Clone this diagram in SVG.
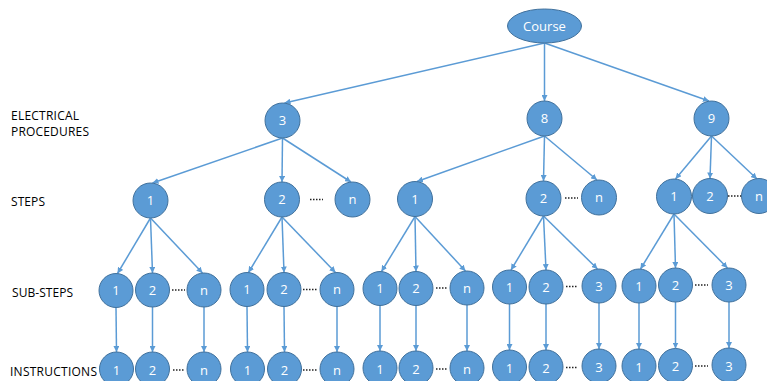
<svg xmlns="http://www.w3.org/2000/svg" width="767" height="381" viewBox="0 0 767 381">
<defs>
<marker id="ah" markerWidth="6" markerHeight="6" refX="6" refY="3" orient="auto" markerUnits="userSpaceOnUse">
<path d="M0,0 L6,3 L0,6 z" fill="#5B9BD5"/>
</marker>
<style>
.n circle, .n ellipse { fill: #5B9BD5; stroke: #41719C; stroke-width: 1; }
.n text { fill: #ffffff; font-family: "Open Sans", "Liberation Sans", sans-serif; font-size: 13px; text-anchor: middle; }
.c line { stroke: #5B9BD5; stroke-width: 1.5; marker-end: url(#ah); }
.d line { stroke: #222; stroke-width: 1.5; stroke-dasharray: 1.5 1.5; }
.lbl { fill: #000; font-family: "Open Sans", "Liberation Sans", sans-serif; font-size: 12px; }
</style>
</defs>
<rect width="767" height="381" fill="#ffffff"/>

<g id="labels">
<text class="lbl" x="11" y="120" textLength="68">ELECTRICAL</text>
<text class="lbl" x="11" y="136" textLength="78">PROCEDURES</text>
<text class="lbl" x="11" y="206" textLength="34">STEPS</text>
<text class="lbl" x="12" y="297" textLength="61">SUB-STEPS</text>
<text class="lbl" x="10" y="376" textLength="87">INSTRUCTIONS</text>
</g>

<g id="connectors" class="c">
<line x1="544.5" y1="43" x2="284.5" y2="103"/>
<line x1="544.5" y1="43" x2="544.5" y2="101"/>
<line x1="544.5" y1="43" x2="709" y2="101"/>

<line x1="282.5" y1="138" x2="152.5" y2="183"/>
<line x1="282.5" y1="138" x2="282" y2="182"/>
<line x1="282.5" y1="138" x2="351" y2="182"/>
<line x1="544.5" y1="136" x2="417" y2="181.5"/>
<line x1="544.5" y1="136" x2="543.5" y2="181"/>
<line x1="544.5" y1="136" x2="597" y2="180"/>
<line x1="711.5" y1="136" x2="675.5" y2="179"/>
<line x1="711.5" y1="136" x2="710" y2="178.5"/>
<line x1="711.5" y1="136" x2="757" y2="179"/>

<line x1="150.5" y1="218" x2="117.5" y2="273.5"/>
<line x1="150.5" y1="218" x2="152.5" y2="273"/>
<line x1="150.5" y1="218" x2="202.5" y2="273"/>
<line x1="282" y1="217" x2="248.5" y2="272.5"/>
<line x1="282" y1="217" x2="284" y2="272.5"/>
<line x1="282" y1="217" x2="335.5" y2="272.5"/>
<line x1="415" y1="216.5" x2="381.5" y2="271.5"/>
<line x1="415" y1="216.5" x2="416" y2="271.5"/>
<line x1="415" y1="216.5" x2="465.5" y2="271"/>
<line x1="543.5" y1="216" x2="511" y2="270"/>
<line x1="543.5" y1="216" x2="546" y2="270"/>
<line x1="543.5" y1="216" x2="597.5" y2="269"/>
<line x1="674" y1="214" x2="640.5" y2="269"/>
<line x1="674" y1="214" x2="675.5" y2="268"/>
<line x1="674" y1="214" x2="727.5" y2="268"/>

<line x1="116" y1="307.5" x2="116.5" y2="352"/>
<line x1="152.5" y1="307" x2="152.5" y2="352"/>
<line x1="204" y1="307" x2="204" y2="352"/>
<line x1="247" y1="306.5" x2="247.5" y2="352"/>
<line x1="284" y1="306.5" x2="284.5" y2="352"/>
<line x1="337" y1="306.5" x2="337" y2="352"/>
<line x1="380" y1="305.5" x2="380" y2="351"/>
<line x1="416" y1="305.5" x2="416" y2="351"/>
<line x1="467" y1="305" x2="467" y2="351"/>
<line x1="509.5" y1="304" x2="509.5" y2="350"/>
<line x1="546" y1="304" x2="546" y2="350"/>
<line x1="599" y1="303" x2="599" y2="349"/>
<line x1="639" y1="303" x2="639" y2="349"/>
<line x1="675.5" y1="302" x2="675.5" y2="348.5"/>
<line x1="729" y1="302" x2="729" y2="348"/>
</g>

<g id="dots" class="d">
<line x1="310" y1="199.5" x2="323" y2="199.5"/>
<line x1="565" y1="198" x2="578" y2="198"/>
<line x1="728" y1="196" x2="742" y2="196"/>
<line x1="172" y1="290" x2="185" y2="290"/>
<line x1="303" y1="289.5" x2="317" y2="289.5"/>
<line x1="436" y1="288" x2="448" y2="288"/>
<line x1="566" y1="286.5" x2="578" y2="286.5"/>
<line x1="695" y1="285" x2="708" y2="285"/>
<line x1="173" y1="370" x2="185" y2="370"/>
<line x1="303" y1="370" x2="317" y2="370"/>
<line x1="436" y1="369" x2="448" y2="369"/>
<line x1="566" y1="367.5" x2="578" y2="367.5"/>
<line x1="695" y1="366" x2="708" y2="366"/>
</g>

<g id="course" class="n"><ellipse cx="544.5" cy="26" rx="37" ry="17"/><text x="544.5" y="30.5">Course</text></g>

<g id="p3" class="n"><circle cx="282.5" cy="120.5" r="17.5"/><text x="282.5" y="125">3</text></g>
<g id="p8" class="n"><circle cx="544.5" cy="118.5" r="17.5"/><text x="544.5" y="123">8</text></g>
<g id="p9" class="n"><circle cx="711.5" cy="118.5" r="17.5"/><text x="711.5" y="123">9</text></g>

<g id="s3-1" class="n"><circle cx="150.5" cy="200.5" r="17.5"/><text x="150.5" y="205">1</text></g>
<g id="s3-2" class="n"><circle cx="282" cy="199.5" r="17.5"/><text x="282" y="204">2</text></g>
<g id="s3-n" class="n"><circle cx="352.5" cy="199.5" r="17.5"/><text x="352.5" y="204">n</text></g>
<g id="s8-1" class="n"><circle cx="415" cy="199" r="17.5"/><text x="415" y="203.5">1</text></g>
<g id="s8-2" class="n"><circle cx="543.5" cy="198.5" r="17.5"/><text x="543.5" y="203">2</text></g>
<g id="s8-n" class="n"><circle cx="599" cy="197.5" r="17.5"/><text x="599" y="202">n</text></g>
<g id="s9-1" class="n"><circle cx="674" cy="196.5" r="17.5"/><text x="674" y="201">1</text></g>
<g id="s9-2" class="n"><circle cx="710" cy="196" r="17.5"/><text x="710" y="200.5">2</text></g>
<g id="s9-n" class="n"><circle cx="759" cy="196" r="17.5"/><text x="759" y="200.5">n</text></g>

<g id="ss-a1" class="n"><circle cx="116" cy="290.5" r="17"/><text x="116" y="295">1</text></g>
<g id="ss-a2" class="n"><circle cx="152.5" cy="290" r="17"/><text x="152.5" y="294.5">2</text></g>
<g id="ss-an" class="n"><circle cx="204" cy="290" r="17"/><text x="204" y="294.5">n</text></g>
<g id="ss-b1" class="n"><circle cx="247" cy="289.5" r="17"/><text x="247" y="294">1</text></g>
<g id="ss-b2" class="n"><circle cx="284" cy="289.5" r="17"/><text x="284" y="294">2</text></g>
<g id="ss-bn" class="n"><circle cx="337" cy="289.5" r="17"/><text x="337" y="294">n</text></g>
<g id="ss-c1" class="n"><circle cx="380" cy="288.5" r="17"/><text x="380" y="293">1</text></g>
<g id="ss-c2" class="n"><circle cx="416" cy="288.5" r="17"/><text x="416" y="293">2</text></g>
<g id="ss-cn" class="n"><circle cx="467" cy="288" r="17"/><text x="467" y="292.5">n</text></g>
<g id="ss-d1" class="n"><circle cx="509.5" cy="287" r="17"/><text x="509.5" y="291.5">1</text></g>
<g id="ss-d2" class="n"><circle cx="546" cy="287" r="17"/><text x="546" y="291.5">2</text></g>
<g id="ss-d3" class="n"><circle cx="599" cy="286" r="17"/><text x="599" y="290.5">3</text></g>
<g id="ss-e1" class="n"><circle cx="639" cy="286" r="17"/><text x="639" y="290.5">1</text></g>
<g id="ss-e2" class="n"><circle cx="675.5" cy="285" r="17"/><text x="675.5" y="289.5">2</text></g>
<g id="ss-e3" class="n"><circle cx="729" cy="285" r="17"/><text x="729" y="289.5">3</text></g>

<g id="in-a1" class="n"><circle cx="116.5" cy="369" r="17"/><text x="116.5" y="374.5">1</text></g>
<g id="in-a2" class="n"><circle cx="152.5" cy="369" r="17"/><text x="152.5" y="374.5">2</text></g>
<g id="in-an" class="n"><circle cx="204" cy="369" r="17"/><text x="204" y="374.5">n</text></g>
<g id="in-b1" class="n"><circle cx="247.5" cy="369" r="17"/><text x="247.5" y="374.5">1</text></g>
<g id="in-b2" class="n"><circle cx="284.5" cy="369" r="17"/><text x="284.5" y="374.5">2</text></g>
<g id="in-bn" class="n"><circle cx="337" cy="369" r="17"/><text x="337" y="374.5">n</text></g>
<g id="in-c1" class="n"><circle cx="380" cy="368" r="17"/><text x="380" y="373.5">1</text></g>
<g id="in-c2" class="n"><circle cx="416" cy="368" r="17"/><text x="416" y="373.5">2</text></g>
<g id="in-cn" class="n"><circle cx="467" cy="368" r="17"/><text x="467" y="373.5">n</text></g>
<g id="in-d1" class="n"><circle cx="509.5" cy="367" r="17"/><text x="509.5" y="372.5">1</text></g>
<g id="in-d2" class="n"><circle cx="546" cy="367" r="17"/><text x="546" y="372.5">2</text></g>
<g id="in-d3" class="n"><circle cx="599" cy="366" r="17"/><text x="599" y="371.5">3</text></g>
<g id="in-e1" class="n"><circle cx="639" cy="366" r="17"/><text x="639" y="371.5">1</text></g>
<g id="in-e2" class="n"><circle cx="675.5" cy="365.5" r="17"/><text x="675.5" y="371">2</text></g>
<g id="in-e3" class="n"><circle cx="729" cy="365" r="17"/><text x="729" y="370.5">3</text></g>
</svg>
